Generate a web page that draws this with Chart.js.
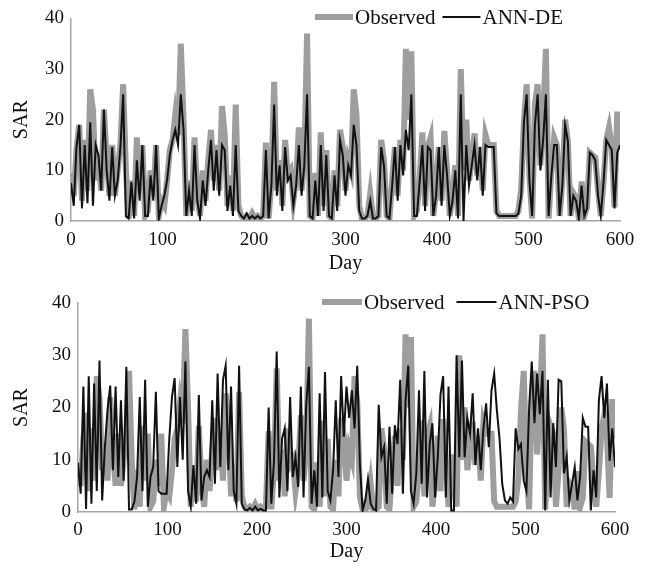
<!DOCTYPE html>
<html>
<head>
<meta charset="utf-8">
<script src="https://cdn.jsdelivr.net/npm/chart.js@4.4.0/dist/chart.umd.min.js"></script>
<style>
  body { margin: 0; background: #fff; }
  canvas { display: block; }
</style>
</head>
<body>
<canvas id="topChart" width="650" height="283"></canvas>
<canvas id="bottomChart" width="650" height="283"></canvas>
<script>
// sampling grid: every 3rd day, 0..600
const days = [];
for (let d = 0; d <= 600; d += 3) days.push(d);

// observed SAR (same in both panels)
const observed = [
  9.5, 5, 14, 19, 4, 16, 6, 26, 22, 8,          // 0-27
  13, 6, 22, 12, 5, 15, 5, 10, 15, 27,          // 30-57
  10, 0.5, 8, 1, 16.5, 6, 15, 1, 2, 10,         // 60-87
  5, 15, 1, 4, 3, 8, 14, 16, 21, 17,            // 90-117
  35, 20, 1, 8, 2, 16.5, 5, 1, 10, 4,           // 120-147
  12, 18, 8, 15, 6, 22.7, 17, 3, 9, 2,          // 150-177
  23, 3, 1, 0.5, 1, 0.5, 1.5, 0.5, 1, 0.5,      // 180-207
  1, 15.5, 0.5, 8, 27.5, 6, 12, 3, 16, 9,       // 210-237
  10, 4, 8, 18.5, 6, 12, 37, 1, 0.5, 9.5,       // 240-267
  1, 17.5, 3, 14, 1, 0.5, 10, 3, 18, 14.6,      // 270-297
  6, 12, 10, 26, 21, 3, 0.5, 0.5, 1, 5.4,       // 300-327
  0.5, 0.5, 1, 16, 12, 1, 0.5, 8, 14.6, 5,      // 330-357
  16, 10, 34, 20, 33.5, 1, 2, 8, 17.5, 3,       // 360-387
  14.6, 16.5, 1, 6, 14.6, 4, 17.8, 10, 1, 5,    // 390-417
  11, 1, 30, 10, 20, 8, 12, 17.3, 9, 14.6,      // 420-447
  6, 17, 15, 15, 15, 2, 1, 1, 1, 1,             // 450-477
  1, 1, 1, 2, 6.3, 19.6, 27, 9, 0.5, 23,        // 480-507
  27, 11, 20, 34, 0.5, 10, 16.5, 15, 1, 8,      // 510-537
  20, 15.8, 1, 5.5, 4.6, 0.5, 7.8, 1, 2.7, 13.5, // 540-567
  13, 12.5, 6, 1, 7.7, 16, 18.5, 14.6, 2.7, 21.6, // 570-597
  14                                            // 600
];

// ANN-DE prediction
const annDE = [
  7.5, 3, 14.6, 19, 2.5, 15, 3.5, 19.5, 3, 15,
  13, 6, 22, 10, 4, 14.6, 5, 8, 14.6, 25,
  1, 0.5, 7.7, 0.5, 12, 4, 15, 1, 1, 9,
  4, 15, 0.5, 3, 5, 8, 13, 16, 18, 15,
  25, 18, 1, 6, 1, 15, 4, 0.5, 8, 3,
  10, 16, 6, 14, 5, 15, 14, 2, 7, 1,
  15, 2, 1, 0.5, 1.5, 0.5, 1, 0.5, 1, 0.5,
  1, 14, 0.5, 7, 23, 5, 11, 2, 14.6, 8,
  9, 3, 7, 15, 5, 11, 25, 1, 0.5, 8,
  1, 15, 2, 13, 1, 0.5, 9, 2, 16, 13,
  5, 11, 9, 19, 15, 2, 0.5, 0.5, 1, 4,
  0.5, 0.5, 1, 14.6, 11, 1, 0.5, 7, 14.6, 4,
  15, 9, 18, 14, 25, 1, 1, 7.7, 15, 2,
  14.6, 14, 1, 5, 14.6, 3, 15, 9, 1, 4,
  10, 0.5, 25, 0, 15, 7, 11, 15, 8, 14.6,
  5, 15, 14.6, 14.6, 14.6, 1.5, 1, 1, 1, 1,
  1, 1, 1, 1.5, 5, 19.6, 25, 8, 1, 19,
  25, 10, 16, 25, 1, 9, 15, 15, 1, 7,
  19, 15.8, 1, 5, 4, 0.5, 7, 1, 2.5, 13.5,
  13, 12, 5, 1, 7.7, 16, 15, 14, 2.5, 13.5,
  15
];

// ANN-PSO prediction
const annPSO = [
  9.4, 3.5, 24, 0.6, 26, 1.6, 24.6, 4, 29, 2.2,
  12.4, 19.5, 24.2, 8, 24, 6.7, 21.4, 6, 27.8, 0.5,
  0.5, 2, 6.7, 22, 4, 25.3, 1, 6.7, 8.6, 23,
  4, 3.5, 3.5, 3.5, 14, 22, 25.6, 8.6, 22, 10,
  28.8, 4, 1, 9, 1.6, 22.4, 2.2, 6.7, 8, 6.7,
  21.4, 5.4, 26.5, 8.6, 25.3, 28, 8, 24, 4, 1.6,
  28, 1.6, 0.5, 0.3, 0.8, 0.3, 1, 0.3, 0.6, 0.3,
  0.3, 20, 1.6, 9.8, 30.7, 2.8, 14, 16, 4, 22,
  6.7, 10.5, 4.8, 24, 2.8, 20.5, 27.8, 1.6, 8, 1,
  22.7, 2.8, 26.8, 4, 2.2, 8, 21.4, 6.7, 26, 14.4,
  24, 18, 23.3, 16, 28, 9, 0.3, 2.2, 6.3, 1.6,
  0.6, 0.3, 20.5, 10.5, 12.4, 1.6, 16.3, 3.5, 16.6, 13,
  25.3, 3.5, 21.4, 28, 4, 1.6, 7.4, 23.3, 5.4, 27,
  2.8, 13, 17, 2.8, 10.5, 22.4, 26, 2.8, 24, 0.3,
  0.3, 30, 10.5, 29, 10.5, 18, 15, 22.7, 9, 16,
  8, 16, 20.8, 12.4, 23.3, 26.5, 19.5, 14, 5.4, 2.2,
  1.6, 2.8, 2, 16, 12, 13, 6, 4, 19.5, 28.8,
  17, 26.5, 18.7, 27, 0.3, 25.3, 2.8, 17, 8.6, 25.3,
  25, 7.4, 10.5, 2.2, 5.4, 8.6, 2.2, 6.7, 18, 16.3,
  16.3, 0.3, 8, 2.8, 21.4, 26, 18, 24.6, 9.8, 16,
  8.6
];

const xMax = 600, xStep = 100;
const yMax = 40, yStep = 10;

const FONT = '"Liberation Serif", "Times New Roman", serif';

// legend drawn inside the plot: line sample + label, left to right
const lineLegend = {
  id: 'lineLegend',
  afterDraw(chart, args, opts) {
    const ctx = chart.ctx;
    ctx.save();
    ctx.font = opts.fontSize + 'px ' + FONT;
    ctx.textBaseline = 'middle';
    ctx.fillStyle = '#111';
    let x = opts.x;
    chart.data.datasets.forEach(ds => {
      ctx.strokeStyle = ds.borderColor;
      ctx.lineWidth = ds.borderWidth;
      ctx.beginPath();
      ctx.moveTo(x, opts.y);
      ctx.lineTo(x + opts.lineLen, opts.y);
      ctx.stroke();
      x += opts.lineLen + 2;
      ctx.fillText(ds.label, x, opts.y + 1);
      x += ctx.measureText(ds.label).width + opts.gap;
    });
    ctx.restore();
  }
};

function toPoints(values) {
  return values.map((v, i) => ({ x: days[i], y: v }));
}

function makeChart(id, predLabel, pred, lay) {
  return new Chart(document.getElementById(id), {
    type: 'line',
    data: {
      datasets: [
        {
          label: 'Observed',
          data: toPoints(observed),
          borderColor: '#9e9e9e',
          borderWidth: 6,
          pointRadius: 0,
          tension: 0,
          order: 2
        },
        {
          label: predLabel,
          data: toPoints(pred),
          borderColor: '#111111',
          borderWidth: 2,
          pointRadius: 0,
          tension: 0,
          order: 1
        }
      ]
    },
    options: {
      responsive: false,
      animation: false,
      devicePixelRatio: 1,
      layout: { padding: { left: 6, right: lay.right, top: lay.top, bottom: 0 } },
      plugins: {
        legend: { display: false },
        tooltip: { enabled: false },
        lineLegend: lay.legend
      },
      scales: {
        x: {
          type: 'linear',
          min: 0,
          max: xMax,
          grid: { display: false, drawTicks: false },
          border: { display: true, color: '#a6a6a6', width: 1.5 },
          ticks: { stepSize: xStep, padding: lay.xTickPad, color: '#111', font: { family: FONT, size: 19 } },
          title: { display: true, text: 'Day', color: '#111', font: { family: FONT, size: 20 }, padding: { top: 0, bottom: lay.dayPad } },
          afterFit(scale) { scale.height = lay.xHeight; }
        },
        y: {
          min: 0,
          max: yMax,
          grid: { display: false, drawTicks: false },
          border: { display: true, color: '#a6a6a6', width: 1.5 },
          ticks: { stepSize: yStep, padding: 7, color: '#111', font: { family: FONT, size: 19 } },
          title: { display: true, text: 'SAR', color: '#111', font: { family: FONT, size: 20 }, padding: { top: 4, bottom: 0 } },
          afterFit(scale) { scale.width = lay.yWidth; }
        }
      }
    },
    plugins: [lineLegend]
  });
}

makeChart('topChart', 'ANN-DE', annDE, {
  top: 13, right: 30, xHeight: 62, yWidth: 65, xTickPad: 8, dayPad: 7,
  legend: { x: 315, y: 17, lineLen: 38, gap: 7, fontSize: 21 }
});

makeChart('bottomChart', 'ANN-PSO', annPSO, {
  top: 20, right: 35, xHeight: 54, yWidth: 72, xTickPad: 7, dayPad: 2,
  legend: { x: 322, y: 19, lineLen: 40, gap: 12, fontSize: 21 }
});
</script>
</body>
</html>
